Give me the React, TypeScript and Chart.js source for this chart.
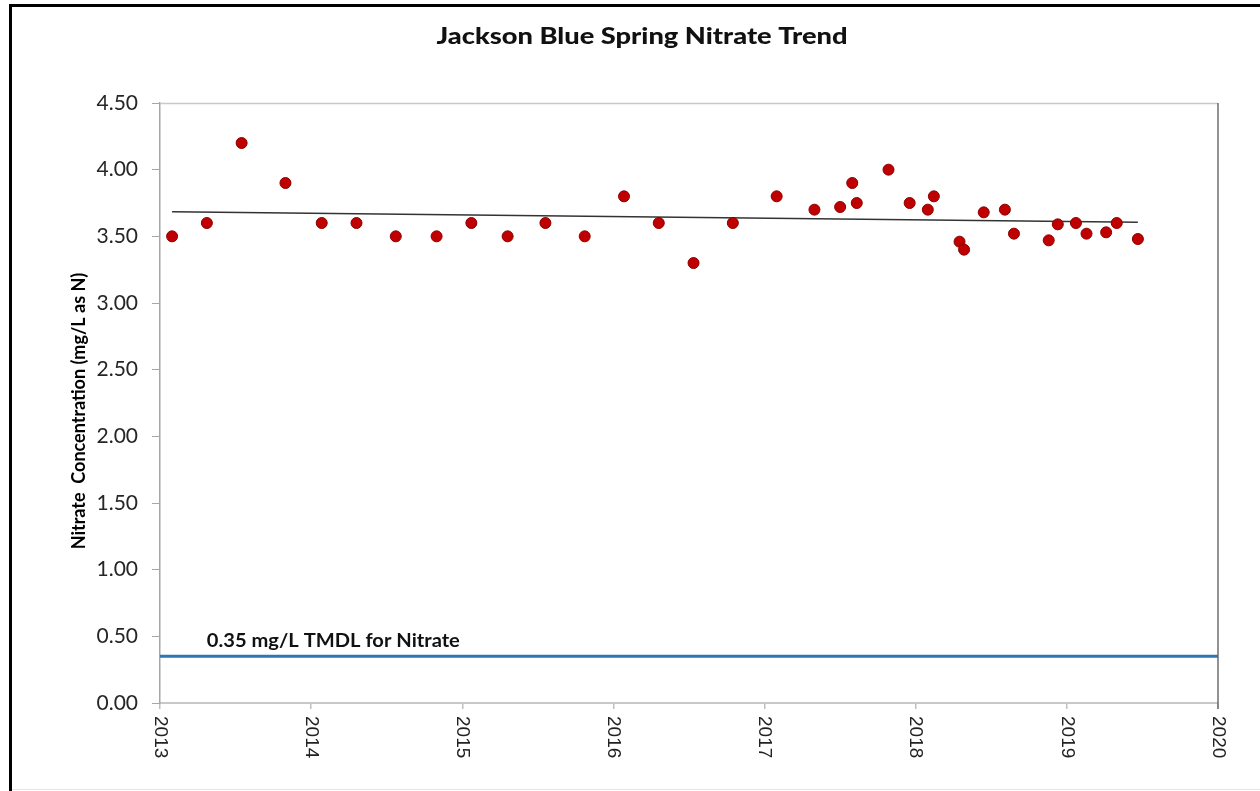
import React, { useEffect, useRef } from "react";
import { Chart, registerables } from "chart.js";

Chart.register(...registerables);

const chartTitle = "Jackson Blue Spring Nitrate Trend";
const yAxisTitle = "Nitrate  Concentration (mg/L as N)";
const tmdlLabel = "0.35 mg/L TMDL for Nitrate";

const sampleDates = [
  2013.08, 2013.31, 2013.54, 2013.83, 2014.07, 2014.3, 2014.56, 2014.83,
  2015.06, 2015.3, 2015.55, 2015.81, 2016.07, 2016.3, 2016.53, 2016.79,
  2017.08, 2017.33, 2017.5, 2017.58, 2017.61, 2017.82, 2017.96, 2018.08,
  2018.12, 2018.29, 2018.32, 2018.45, 2018.59, 2018.65, 2018.88, 2018.94,
  2019.06, 2019.13, 2019.26, 2019.33, 2019.47,
];
const nitrateValues = [
  3.5, 3.6, 4.2, 3.9, 3.6, 3.6, 3.5, 3.5,
  3.6, 3.5, 3.6, 3.5, 3.8, 3.6, 3.3, 3.6,
  3.8, 3.7, 3.72, 3.9, 3.75, 4.0, 3.75, 3.7,
  3.8, 3.46, 3.4, 3.68, 3.7, 3.52, 3.47, 3.59,
  3.6, 3.52, 3.53, 3.6, 3.48,
];
const trendDates = [2013.08, 2019.47];
const trendValues = [3.685, 3.605];
const tmdlDates = [2013, 2020];
const tmdlValues = [0.35, 0.35];
const xTickYears = [2013, 2014, 2015, 2016, 2017, 2018, 2019, 2020];

const toPoints = (xs: number[], ys: number[]) => xs.map((x, i) => ({ x, y: ys[i] }));

const drawStretched = (ctx: any, text: string, x: number, y: number, targetWidth: number, align: string) => {
  const w = ctx.measureText(text).width;
  const sx = targetWidth / w;
  ctx.save();
  ctx.translate(x, y);
  ctx.scale(sx, 1);
  ctx.textAlign = align;
  ctx.fillText(text, 0, 0);
  ctx.restore();
};

const decorPlugin = {
  id: "decor",
  beforeDraw(chart: any) {
    const ctx = chart.ctx;
    ctx.save();
    ctx.fillStyle = "#ffffff";
    ctx.fillRect(0, 0, chart.width, chart.height);
    ctx.fillStyle = "#000000";
    ctx.fillRect(9, 4, chart.width - 9, 3);
    ctx.fillRect(9, 4, 3, chart.height - 4);
    ctx.fillStyle = "#e6e6e6";
    ctx.fillRect(12, chart.height - 2, chart.width - 12, 1);
    ctx.restore();
  },
  beforeDatasetsDraw(chart: any) {
    const ctx = chart.ctx;
    const a = chart.chartArea;
    ctx.save();
    ctx.strokeStyle = "#c8c8c8";
    ctx.lineWidth = 1.5;
    ctx.beginPath();
    ctx.moveTo(a.left, a.top + 0.5);
    ctx.lineTo(a.right, a.top + 0.5);
    ctx.stroke();
    ctx.strokeStyle = "#6e6e6e";
    ctx.lineWidth = 1.5;
    ctx.beginPath();
    ctx.moveTo(a.right, a.top);
    ctx.lineTo(a.right, a.bottom + 6);
    ctx.stroke();
    ctx.restore();
  },
  afterDraw(chart: any) {
    const ctx = chart.ctx;
    const a = chart.chartArea;
    const xs = chart.scales.x;
    const ys = chart.scales.y;
    ctx.save();
    ctx.fillStyle = "#111111";
    ctx.font = "900 22px Lato";
    ctx.textBaseline = "alphabetic";
    drawStretched(ctx, chartTitle, 642, 44, 411, "center");

    ctx.save();
    ctx.translate(79, (a.top + a.bottom) / 2 + 8);
    ctx.rotate(-Math.PI / 2);
    ctx.font = "bold 18px Lato";
    ctx.textAlign = "center";
    ctx.textBaseline = "middle";
    ctx.fillStyle = "#000000";
    ctx.fillText(yAxisTitle, 0, 0);
    ctx.restore();

    ctx.font = "19px 'Liberation Sans'";
    ctx.fillStyle = "#222222";
    ctx.textAlign = "left";
    ctx.textBaseline = "middle";
    xTickYears.forEach((yr) => {
      const px = xs.getPixelForValue(yr);
      ctx.save();
      ctx.translate(px, a.bottom + 13);
      ctx.rotate(Math.PI / 2);
      ctx.fillText(String(yr), 0, 0);
      ctx.restore();
    });

    ctx.font = "bold 18px Lato";
    ctx.fillStyle = "#111111";
    ctx.textBaseline = "alphabetic";
    drawStretched(ctx, tmdlLabel, xs.getPixelForValue(2013.31), ys.getPixelForValue(0.35) - 9, 253, "left");
    ctx.restore();
  },
};

export default function App() {
  const canvasRef = useRef<HTMLCanvasElement | null>(null);

  useEffect(() => {
    if (!canvasRef.current) return;
    const chart = new Chart(canvasRef.current, {
      type: "scatter",
      data: {
        datasets: [
          {
            label: "TMDL",
            data: toPoints(tmdlDates, tmdlValues),
            showLine: true,
            borderColor: "#2E75B6",
            borderWidth: 3,
            pointRadius: 0,
            order: 3,
          },
          {
            label: "Trend",
            data: toPoints(trendDates, trendValues),
            showLine: true,
            borderColor: "#333333",
            borderWidth: 1.5,
            pointRadius: 0,
            order: 2,
          },
          {
            label: "Nitrate",
            data: toPoints(sampleDates, nitrateValues),
            showLine: false,
            backgroundColor: "#C00000",
            borderColor: "#8B0000",
            borderWidth: 1,
            pointRadius: 5.5,
            order: 1,
          },
        ],
      },
      options: {
        responsive: false,
        animation: false,
        layout: { padding: { left: 0, top: 103, right: 42, bottom: 0 } },
        plugins: {
          legend: { display: false },
          title: { display: false },
          tooltip: { enabled: false },
        },
        scales: {
          x: {
            type: "linear",
            min: 2013,
            max: 2020,
            ticks: { display: false, stepSize: 1 },
            grid: {
              drawOnChartArea: false,
              drawTicks: true,
              tickLength: 6,
              color: "#bfbfbf",
              lineWidth: 1.5,
            },
            border: { display: true, color: "#c8c8c8", width: 2 },
            afterFit: (scale: any) => {
              scale.height = 88;
            },
          },
          y: {
            type: "linear",
            min: 0,
            max: 4.5,
            ticks: {
              stepSize: 0.5,
              padding: 14,
              color: "#262626",
              font: { family: "Lato", size: 21 },
              callback: (v: any) => Number(v).toFixed(2),
            },
            grid: {
              drawOnChartArea: false,
              drawTicks: true,
              tickLength: 8,
              color: "#a6a6a6",
              lineWidth: 1,
            },
            border: { display: true, color: "#a6a6a6", width: 1.5 },
            afterFit: (scale: any) => {
              scale.width = 160;
            },
          },
        },
      },
      plugins: [decorPlugin],
    });
    return () => chart.destroy();
  }, []);

  return (
    <div style={{ position: "absolute", left: 0, top: 0, width: 1260, height: 791 }}>
      <canvas ref={canvasRef} width={1260} height={791} style={{ display: "block" }} />
    </div>
  );
}
